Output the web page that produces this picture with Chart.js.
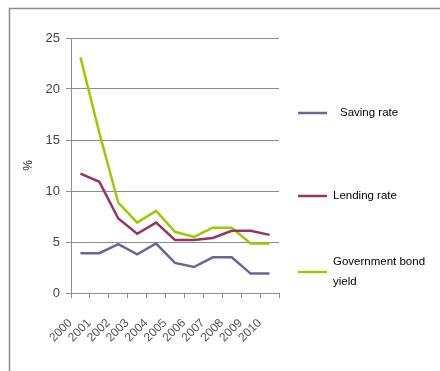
<!DOCTYPE html>
<html>
<head>
<meta charset="utf-8">
<script src="https://cdn.jsdelivr.net/npm/chart.js@4"></script>
<style>
  html, body { margin: 0; padding: 0; background: #fff; }
  #wrap { position: relative; width: 440px; height: 371px; }
</style>
</head>
<body>
<div id="wrap"><canvas id="c" width="440" height="371"></canvas></div>
<script>
// data
const years = ['2000', '2001', '2002', '2003', '2004', '2005', '2006', '2007', '2008', '2009', '2010'];
const savingRate = [3.9, 3.9, 4.8, 3.8, 4.85, 2.95, 2.55, 3.5, 3.5, 1.9, 1.9];
const lendingRate = [11.7, 10.9, 7.3, 5.8, 6.9, 5.2, 5.2, 5.4, 6.1, 6.1, 5.7];
const bondYield = [23.1, 15.7, 8.85, 6.9, 8.05, 6.0, 5.5, 6.4, 6.4, 4.85, 4.85];
const seriesNames = ['Saving rate', 'Lending rate', ['Government bond', 'yield']];
const seriesColors = ['#666699', '#993366', '#99CC00'];
const yTicks = [0, 5, 10, 15, 20, 25];

const FONT = '"Liberation Sans", Arial, sans-serif';

// grey frame round the chart (only top and left show)
const framePlugin = {
  id: 'frame',
  beforeDraw(chart) {
    const ctx = chart.ctx;
    ctx.save();
    ctx.strokeStyle = '#8c8c8c';
    ctx.lineWidth = 1.5;
    ctx.beginPath();
    ctx.moveTo(9.5, 380);
    ctx.lineTo(9.5, 8.5);
    ctx.lineTo(450, 8.5);
    ctx.stroke();
    ctx.restore();
  }
};

// legend on the right, spread out like the original
const legendPlugin = {
  id: 'sideLegend',
  afterDraw(chart) {
    const ctx = chart.ctx;
    const rows = [113, 196, 272];
    ctx.save();
    ctx.font = '11.5px ' + FONT;
    ctx.fillStyle = '#000';
    ctx.textBaseline = 'middle';
    chart.data.datasets.forEach((ds, i) => {
      const y = rows[i];
      ctx.strokeStyle = ds.borderColor;
      ctx.lineWidth = 2.5;
      ctx.beginPath();
      ctx.moveTo(298, y);
      ctx.lineTo(327, y);
      ctx.stroke();
      const label = Array.isArray(ds.label) ? ds.label : [ds.label];
      const x = i === 0 ? 340 : 333;
      if (label.length === 1) {
        ctx.fillText(label[0], x, y);
      } else {
        ctx.fillText(label[0], x, y - 10);
        ctx.fillText(label[1], x, y + 10);
      }
    });
    ctx.restore();
  }
};

new Chart(document.getElementById('c'), {
  type: 'line',
  data: {
    labels: years,
    datasets: [savingRate, lendingRate, bondYield].map((d, i) => ({
      label: seriesNames[i],
      data: d,
      borderColor: seriesColors[i],
      backgroundColor: seriesColors[i],
      borderWidth: 2.5,
      pointRadius: 0,
      tension: 0,
      fill: false
    }))
  },
  options: {
    responsive: false,
    animation: false,
    layout: { padding: { left: 21, top: 38, right: 161, bottom: 0 } },
    scales: {
      x: {
        offset: true,
        grid: { offset: true, drawOnChartArea: false, drawTicks: true, tickLength: 5, color: '#8c8c8c' },
        border: { color: '#8c8c8c' },
        ticks: {
          minRotation: 45, maxRotation: 45, autoSkip: false,
          labelOffset: -10, padding: 18,
          color: '#555', font: { family: FONT, size: 12 }
        },
        afterFit(s) { s.height = 78; }
      },
      y: {
        min: 0, max: 25,
        afterBuildTicks(s) { s.ticks = yTicks.map(v => ({ value: v })); },
        grid: { color: '#8c8c8c', tickLength: 5, drawTicks: true },
        border: { color: '#8c8c8c' },
        ticks: { color: '#444', padding: 6, font: { family: FONT, size: 13 } },
        title: { display: true, text: '%', color: '#222', padding: 0, font: { family: FONT, size: 12 } },
        afterFit(s) { s.width = 50; }
      }
    },
    plugins: {
      legend: { display: false },
      tooltip: { enabled: false }
    }
  },
  plugins: [framePlugin, legendPlugin]
});
</script>
</body>
</html>
